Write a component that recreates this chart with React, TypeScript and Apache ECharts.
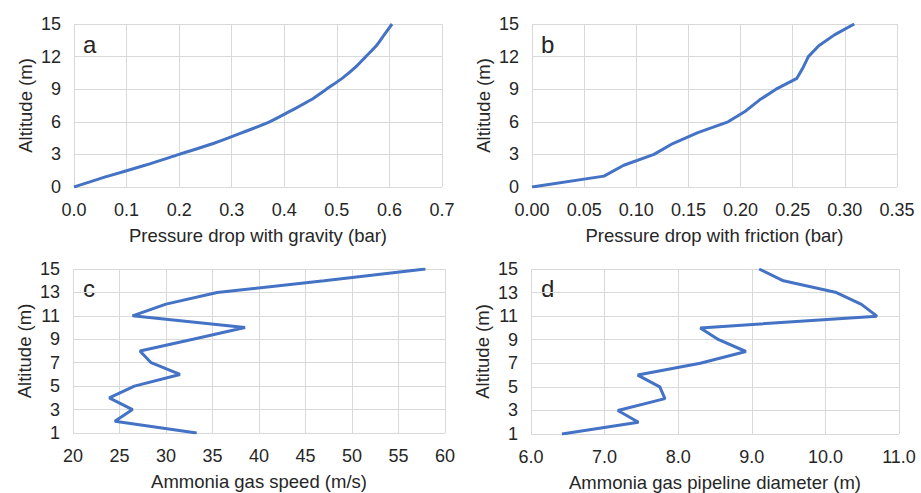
import React, { useEffect, useRef } from "react";
import * as echarts from "echarts";

const altitudeAB = [0, 1, 2, 3, 4, 5, 6, 7, 8, 9, 10, 11, 12, 13, 14, 15];
const gravityDrop = [0, 0.065, 0.135, 0.2, 0.265, 0.32, 0.372, 0.412, 0.45, 0.48, 0.51, 0.535, 0.555, 0.575, 0.59, 0.605];
const frictionDrop = [0, 0.069, 0.088, 0.117, 0.135, 0.159, 0.188, 0.205, 0.218, 0.234, 0.254, 0.26, 0.265, 0.275, 0.29, 0.309];

const altitudeCD = [1, 2, 3, 4, 5, 6, 7, 8, 9, 10, 11, 12, 13, 14, 15];
const gasSpeed = [33.3, 24.5, 26.4, 23.9, 26.6, 31.5, 28.4, 27.2, 32.9, 38.5, 26.4, 30.0, 35.5, 47.0, 57.9];
const pipeDiameter = [6.42, 7.46, 7.18, 7.82, 7.75, 7.45, 8.3, 8.92, 8.55, 8.3, 10.7, 10.49, 10.15, 9.43, 9.1];

const panelLetters = ["a", "b", "c", "d"];
const xNames = [
  "Pressure drop with gravity (bar)",
  "Pressure drop with friction (bar)",
  "Ammonia gas speed (m/s)",
  "Ammonia gas pipeline diameter (m)",
];

const TEXT = "#262626";
const GRIDC = "#d9d9d9";
const BLUE = "#4472C4";
const FONT = "'Liberation Sans', Arial, sans-serif";

export default function App() {
  const ref = useRef<HTMLDivElement>(null);
  useEffect(() => {
    if (!ref.current) return;
    const chart = echarts.init(ref.current, undefined, { renderer: "svg" });
    const grids = [
      { left: 74, top: 24, width: 368, height: 163 },
      { left: 532, top: 24, width: 365, height: 163 },
      { left: 73, top: 269, width: 372, height: 164 },
      { left: 531, top: 269, width: 368, height: 165 },
    ];
    const xCfg = [
      { min: 0, max: 0.7, interval: 0.1, dec: 1 },
      { min: 0, max: 0.35, interval: 0.05, dec: 2 },
      { min: 20, max: 60, interval: 5, dec: 0 },
      { min: 6, max: 11, interval: 1, dec: 1 },
    ];
    const yCfg = [
      { min: 0, max: 15, interval: 3 },
      { min: 0, max: 15, interval: 3 },
      { min: 1, max: 15, interval: 2 },
      { min: 1, max: 15, interval: 2 },
    ];
    const xAxis = xCfg.map((c, i) => ({
      type: "value",
      gridIndex: i,
      min: c.min,
      max: c.max,
      interval: c.interval,
      name: xNames[i],
      nameLocation: "middle",
      nameGap: 39,
      nameTextStyle: { color: TEXT, fontSize: 18.5, fontFamily: FONT },
      axisLine: { show: false },
      axisTick: { show: false },
      splitLine: { show: true, lineStyle: { color: GRIDC, width: 1 } },
      axisLabel: {
        color: TEXT,
        fontSize: 18,
        fontFamily: FONT,
        margin: 14,
        formatter: (v: number) => v.toFixed(c.dec),
      },
    }));
    const yAxis = yCfg.map((c, i) => ({
      type: "value",
      gridIndex: i,
      min: c.min,
      max: c.max,
      interval: c.interval,
      name: "Altitude (m)",
      nameLocation: "middle",
      nameGap: 39,
      nameTextStyle: { color: TEXT, fontSize: 18.5, fontFamily: FONT },
      axisLine: { show: false },
      axisTick: { show: false },
      splitLine: { show: true, lineStyle: { color: GRIDC, width: 1 } },
      axisLabel: { color: TEXT, fontSize: 18, fontFamily: FONT, margin: 13 },
    }));
    const mk = (xs: number[], ys: number[]) => xs.map((x, k) => [x, ys[k]]);
    const datas = [
      mk(gravityDrop, altitudeAB),
      mk(frictionDrop, altitudeAB),
      mk(gasSpeed, altitudeCD),
      mk(pipeDiameter, altitudeCD),
    ];
    const series = datas.map((d, i) => ({
      type: "line",
      xAxisIndex: i,
      yAxisIndex: i,
      data: d,
      showSymbol: false,
      smooth: i === 0 ? 0.3 : false,
      lineStyle: { color: BLUE, width: 3 },
      itemStyle: { color: BLUE },
    }));
    const letterPos = [
      [83, 32],
      [541, 32],
      [83, 276],
      [541, 276],
    ];
    const graphic = panelLetters.map((t, i) => ({
      type: "text",
      x: letterPos[i][0],
      y: letterPos[i][1],
      style: { text: t, fill: TEXT, fontSize: 24, fontFamily: FONT },
    }));
    chart.setOption({
      animation: false,
      backgroundColor: "#ffffff",
      grid: grids.map((g) => ({ ...g, containLabel: false })),
      xAxis,
      yAxis,
      series,
      graphic,
    });
    return () => chart.dispose();
  }, []);
  return (
    <div
      ref={ref}
      style={{ position: "fixed", left: 0, top: 0, width: 921, height: 493 }}
    />
  );
}
